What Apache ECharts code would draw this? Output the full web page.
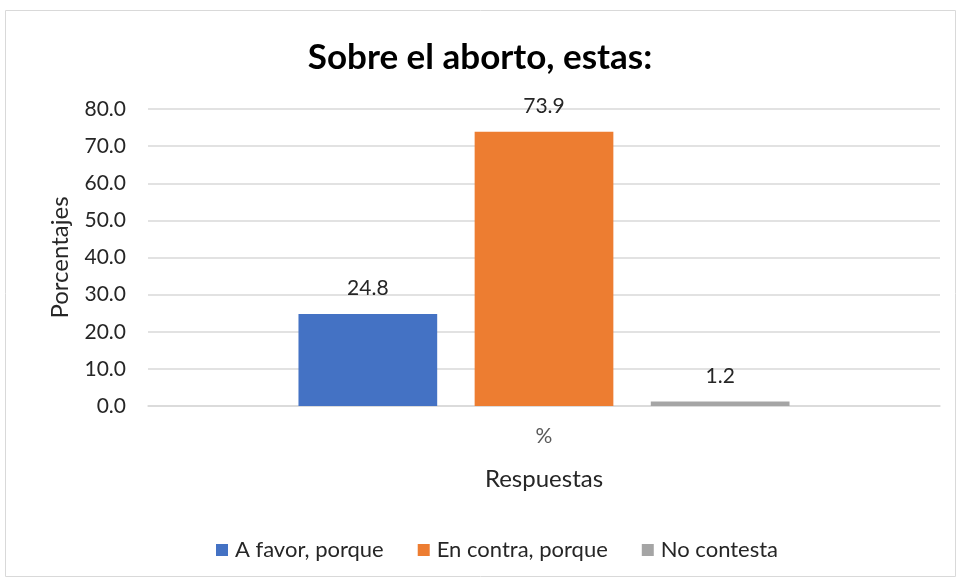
<!DOCTYPE html>
<html>
<head>
<meta charset="utf-8">
<script src="https://cdn.jsdelivr.net/npm/echarts@6/dist/echarts.min.js"></script>
<style>
  html, body { margin: 0; padding: 0; background: #fff; }
  #chart { width: 960px; height: 579px; }
</style>
</head>
<body>
<div id="chart"></div>
<script>
const categories = ['%'];
const seriesNames = ['A favor, porque', 'En contra, porque', 'No contesta'];
const favorValues = [24.8];
const contraValues = [73.9];
const noContestaValues = [1.2];
const colors = ['#4472c4', '#ed7d31', '#a5a5a5'];

const chart = echarts.init(document.getElementById('chart'));
const font = 'Lato, "Noto Sans", sans-serif';
const textColor = '#262626';

const valueSets = [favorValues, contraValues, noContestaValues];
const series = seriesNames.map((name, i) => ({
  name,
  type: 'bar',
  data: valueSets[i],
  itemStyle: { color: colors[i] },
  barGap: '27%',
  barCategoryGap: '38%',
  label: {
    show: true,
    position: 'top',
    distance: 15,
    formatter: (p) => p.value.toFixed(1),
    color: textColor,
    fontSize: 21,
    fontFamily: font,
  },
}));

chart.setOption({
  animation: false,
  textStyle: { fontFamily: font },
  graphic: [{
    type: 'rect',
    shape: { x: 5.5, y: 10.5, width: 950, height: 566 },
    style: { fill: 'none', stroke: '#d9d9d9', lineWidth: 1 },
  }],
  title: {
    text: 'Sobre el aborto, estas:',
    left: 'center',
    top: 35,
    textStyle: { fontSize: 35, fontWeight: 'bold', color: '#000', fontFamily: font },
  },
  legend: {
    data: seriesNames,
    top: 534,
    left: 211,
    itemWidth: 12,
    itemHeight: 12,
    itemGap: 34,
    icon: 'rect',
    textStyle: { fontSize: 22, color: textColor, fontFamily: font, padding: [0, 0, 0, 2] },
  },
  grid: { left: 148, right: 20, top: 109, height: 297 },
  xAxis: {
    type: 'category',
    data: categories,
    name: 'Respuestas',
    nameLocation: 'middle',
    nameGap: 61,
    nameTextStyle: { fontSize: 24, color: textColor, fontFamily: font },
    axisLine: { lineStyle: { color: '#d9d9d9', width: 1.5 } },
    axisTick: { show: false },
    axisLabel: { fontSize: 21, color: '#595959', margin: 20, fontFamily: font },
  },
  yAxis: {
    type: 'value',
    min: 0,
    max: 80,
    interval: 10,
    name: 'Porcentajes',
    nameLocation: 'middle',
    nameGap: 76,
    nameTextStyle: { fontSize: 24, color: textColor, fontFamily: font },
    axisLine: { show: false },
    axisTick: { show: false },
    axisLabel: {
      formatter: (v) => v.toFixed(1),
      fontSize: 21,
      color: textColor,
      margin: 22,
      fontFamily: font,
    },
    splitLine: { lineStyle: { color: '#d9d9d9', width: 1.5 } },
  },
  series,
});
</script>
</body>
</html>
